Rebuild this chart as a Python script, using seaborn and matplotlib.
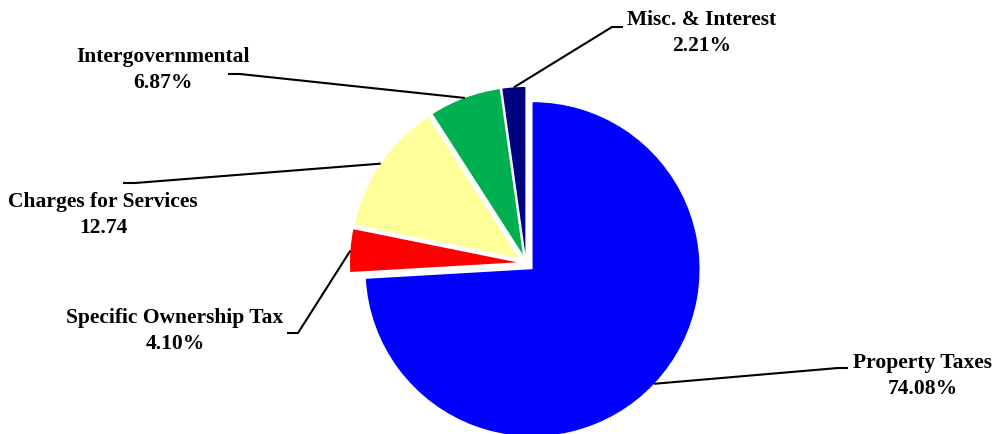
import numpy as np
import matplotlib
matplotlib.use("Agg")
import matplotlib.pyplot as plt
import seaborn as sns

# ---- data ----
categories = ["Property Taxes", "Specific Ownership Tax", "Charges for Services",
              "Intergovernmental", "Misc. & Interest"]
values = [74.08, 4.10, 12.74, 6.87, 2.21]
value_labels = ["74.08%", "4.10%", "12.74", "6.87%", "2.21%"]
colors = ["#0000FF", "#FF0000", "#FFFF99", "#00B050", "#000080"]

sns.set_theme(style="white")
plt.rcParams["font.family"] = ["Liberation Serif", "DejaVu Serif"]

W, H = 995, 435
CX, CY, R = 526, 264, 167  # pie centre / radius in pixels


def px(x, y):
    """pixel coords (origin top-left) -> data coords (radius 1 pie at origin)"""
    return ((x - CX) / R, (CY - y) / R)


fig = plt.figure(figsize=(W / 100, H / 100), dpi=100)
ax = fig.add_axes([0, 0, 1, 1])

wedges, _ = ax.pie(values, colors=colors, startangle=90, counterclock=False,
                   explode=[9 / R] * len(values), radius=1, center=(0, 0),
                   wedgeprops=dict(linewidth=0))

x0, y0 = px(0, H)
x1, y1 = px(W, 0)
ax.set_xlim(x0, x1)
ax.set_ylim(y0, y1)
ax.set_aspect("equal")
ax.axis("off")

# label layout (pixels): text-block centre, line end near text, elbow
label_pos = [(923, 376), (175, 331), (103, 215), (163, 70), (702, 33)]
line_end = [(848, 369), (287, 334), (123, 184), (228, 75), (623, 28)]
line_elbow = [(838, 369), (298, 334), (135, 184), (240, 75), (612, 28)]

for w, cat, vl, lp, le, lb in zip(wedges, categories, value_labels,
                                  label_pos, line_end, line_elbow):
    tm = np.deg2rad((w.theta1 + w.theta2) / 2)
    cx, cy = w.center
    ax_pt = (cx + w.r * np.cos(tm), cy + w.r * np.sin(tm))
    e = px(*le)
    b = px(*lb)
    ax.plot([ax_pt[0], b[0], e[0]], [ax_pt[1], b[1], e[1]], color="black",
            lw=1.5, solid_capstyle="butt", zorder=3)
    tx, ty = px(*lp)
    ax.text(tx, ty, f"{cat}\n{vl}", ha="center", va="center", fontsize=15.5,
            fontweight="bold", color="black", linespacing=1.35)

fig.savefig("out.png", dpi=100)
